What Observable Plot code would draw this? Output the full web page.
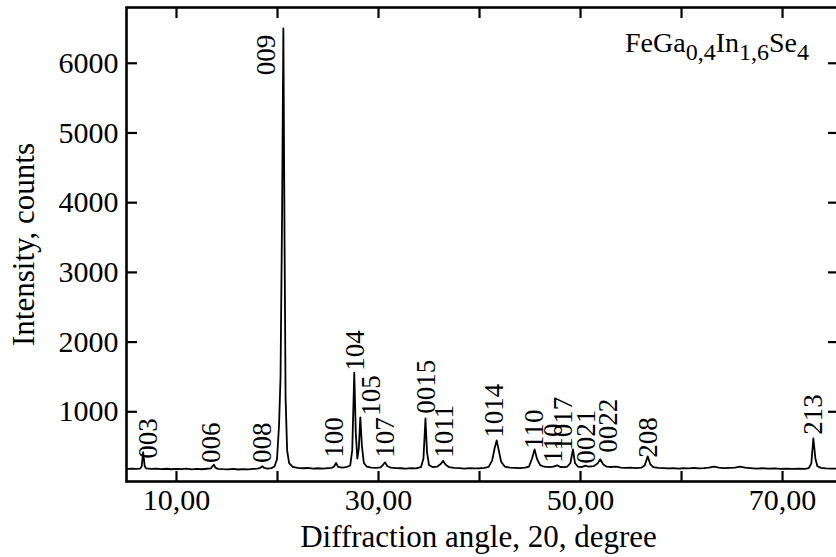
<!DOCTYPE html>
<html>
<head>
<meta charset="utf-8">
<script src="https://cdn.jsdelivr.net/npm/d3@7"></script>
<script src="https://cdn.jsdelivr.net/npm/@observablehq/plot@0.6"></script>
<style>
  html, body { margin: 0; padding: 0; background: white; overflow: hidden; }
  svg { max-width: none !important; }
</style>
</head>
<body>
<div id="chart"></div>
<script>
// Diffraction pattern: angle (2θ, degree) and intensity (counts)
const angle = [
  5.05, 5.5, 6.0, 6.4, 6.55, 6.7, 6.85, 7.0, 7.5, 8.0, 8.5, 9.0, 9.5, 10.0, 10.5, 11.0, 11.5, 12.0, 12.5, 13.0,
  13.4, 13.6, 13.7, 13.85, 14.1, 14.6, 15.1, 15.6, 16.1, 16.6, 17.1, 17.6, 18.0, 18.3, 18.5, 18.7, 19.0, 19.4, 19.7, 19.95,
  20.15, 20.3, 20.45, 20.58, 20.7, 20.8, 20.95, 21.15, 21.5, 22.0, 22.5, 23.0, 23.5, 24.0, 24.5, 25.0, 25.4, 25.6, 25.8, 26.0,
  26.4, 26.8, 27.2, 27.4, 27.6, 27.75, 27.9, 28.05, 28.2, 28.35, 28.55, 28.85, 29.3, 29.8, 30.2, 30.45, 30.65, 30.85, 31.2, 31.7,
  32.2, 32.7, 33.2, 33.7, 34.2, 34.45, 34.65, 34.8, 35.0, 35.4, 35.8, 36.15, 36.4, 36.65, 37.0, 37.5, 38.0, 38.5, 39.0, 39.5,
  40.0, 40.5, 40.9, 41.25, 41.5, 41.7, 41.9, 42.15, 42.5, 43.0, 43.5, 44.0, 44.5, 44.9, 45.2, 45.45, 45.7, 46.0, 46.4, 46.9,
  47.3, 47.7, 48.0, 48.4, 48.7, 49.0, 49.25, 49.45, 49.75, 50.1, 50.5, 50.8, 51.3, 51.7, 51.95, 52.25, 52.6, 53.0, 53.5, 54.0,
  54.5, 55.0, 55.5, 56.0, 56.35, 56.65, 56.9, 57.2, 57.7, 58.2, 58.7, 59.2, 59.7, 60.2, 60.7, 61.2, 61.7, 62.2, 62.7, 63.2,
  63.7, 64.2, 64.7, 65.3, 65.8, 66.3, 66.8, 67.4, 68.0, 68.6, 69.2, 69.8, 70.4, 71.0, 71.6, 72.2, 72.6, 72.85, 73.05, 73.25,
  73.45, 73.8, 74.3, 74.8, 75.3, 75.54
];
const intensity = [
  178, 184, 180, 186, 215, 420, 220, 188, 180, 186, 177, 183, 176, 182, 177, 184, 175, 181, 176, 183,
  188, 225, 240, 198, 182, 177, 174, 181, 172, 178, 174, 181, 184, 196, 218, 194, 186, 192, 215, 320,
  800, 1500, 3800, 6500, 3400, 1200, 450, 265, 210, 196, 190, 194, 186, 190, 185, 192, 196, 215, 265, 210,
  198, 205, 230, 450, 1560, 700, 330, 480, 920, 520, 265, 212, 200, 196, 202, 240, 275, 222, 198, 192,
  190, 186, 192, 188, 205, 330, 905, 420, 235, 205, 212, 250, 295, 240, 205, 195, 192, 186, 192, 188,
  190, 195, 210, 300, 480, 590, 450, 280, 215, 200, 196, 192, 198, 215, 330, 460, 320, 235, 212, 205,
  212, 232, 208, 205, 215, 265, 460, 265, 212, 205, 228, 212, 220, 260, 320, 245, 212, 208, 212, 200,
  196, 198, 192, 198, 230, 360, 250, 205, 195, 192, 188, 193, 186, 190, 188, 194, 188, 192, 198, 215,
  198, 192, 195, 200, 214, 198, 192, 186, 190, 184, 187, 180, 184, 180, 185, 182, 192, 260, 620, 330,
  220, 195, 188, 186, 184, 185
];

// Peak labels (hkl), their angle and the intensity where the text starts
const peakLabel = ["003", "006", "008", "009", "100", "104", "105", "107", "0015", "1011", "1014", "110", "110", "1017", "0021", "0022", "208", "213"];
const peakLabelAngle = [7.22, 13.47, 18.53, 18.93, 25.67, 27.66, 29.25, 30.63, 34.7, 36.5, 41.45, 45.4, 47.3, 48.3, 50.6, 52.8, 56.7, 73.1];
const peakLabelY = [325, 267, 267, 5828, 339, 1589, 943, 339, 971, 339, 626, 468, 267, 440, 253, 411, 339, 669];

// Axis ticks
const xTicks = [10, 20, 30, 40, 50, 60, 70];
const xTickLabels = [10, 30, 50, 70];
const yTicks = [1000, 2000, 3000, 4000, 5000, 6000];

const data = angle.map((a, i) => ({a, c: intensity[i]}));
const labels = peakLabel.map((t, i) => ({t, a: peakLabelAngle[i], c: peakLabelY[i]}));

const FONT = "'Liberation Serif', 'Times New Roman', serif";
const W = 840, H = 557, mL = 126, mR = 2, mT = 7, mB = 76;
const plotW = W - mL - mR, plotH = H - mT - mB;

const chart = Plot.plot({
  width: W,
  height: H,
  marginLeft: mL,
  marginRight: mR,
  marginTop: mT,
  marginBottom: mB,
  style: {fontFamily: FONT, fontSize: "30px", background: "white", color: "black", maxWidth: "none"},
  x: {domain: [5.05, 75.54]},
  y: {domain: [0, 6800]},
  marks: [
    Plot.line(data, {x: "a", y: "c", stroke: "black", strokeWidth: 1.8}),
    // inward ticks on all four sides
    Plot.tickX(xTicks, {x: d => d, insetTop: plotH - 10, stroke: "black", strokeWidth: 2.2}),
    Plot.tickX(xTicks, {x: d => d, insetBottom: plotH - 11, stroke: "black", strokeWidth: 2.2}),
    Plot.tickY(yTicks, {y: d => d, insetRight: plotW - 11, stroke: "black", strokeWidth: 2.2}),
    Plot.tickY(yTicks, {y: d => d, insetLeft: plotW - 10, stroke: "black", strokeWidth: 2.2}),
    Plot.frame({stroke: "black", strokeWidth: 2.6}),
    Plot.axisX({ticks: xTickLabels, tickFormat: d => d.toFixed(2).replace(".", ","), tickSize: 0, tickPadding: 7, label: null, fontSize: 30, fontFamily: FONT}),
    Plot.axisY({ticks: yTicks, tickFormat: d3.format("d"), tickSize: 0, tickPadding: 8, label: null, fontSize: 30, fontFamily: FONT}),
    Plot.text(["Diffraction angle, 20, degree"], {frameAnchor: "bottom", textAnchor: "middle", dx: -4, dy: 56, lineAnchor: "middle", fontSize: 31, fontFamily: FONT, fill: "black"}),
    Plot.text(["Intensity, counts"], {frameAnchor: "left", textAnchor: "middle", dx: -102, rotate: -90, lineAnchor: "middle", fontSize: 31, fontFamily: FONT, fill: "black"}),
    Plot.text(labels, {x: "a", y: "c", text: "t", rotate: -90, textAnchor: "start", lineAnchor: "middle", fontSize: 27, fontFamily: FONT, fill: "black"})
  ]
});

// Compound name with subscripts, top right inside the frame
const svg = d3.select(chart);
const t = svg.append("text")
  .attr("x", 625).attr("y", 52)
  .attr("text-anchor", "start")
  .attr("font-family", FONT)
  .attr("font-size", 28)
  .attr("fill", "black");
t.append("tspan").text("FeGa");
t.append("tspan").attr("font-size", 24).attr("dy", 8).text("0,4");
t.append("tspan").attr("dy", -8).text("In");
t.append("tspan").attr("font-size", 24).attr("dy", 8).text("1,6");
t.append("tspan").attr("dy", -8).text("Se");
t.append("tspan").attr("font-size", 24).attr("dy", 8).text("4");

document.getElementById("chart").appendChild(chart);
</script>
</body>
</html>
